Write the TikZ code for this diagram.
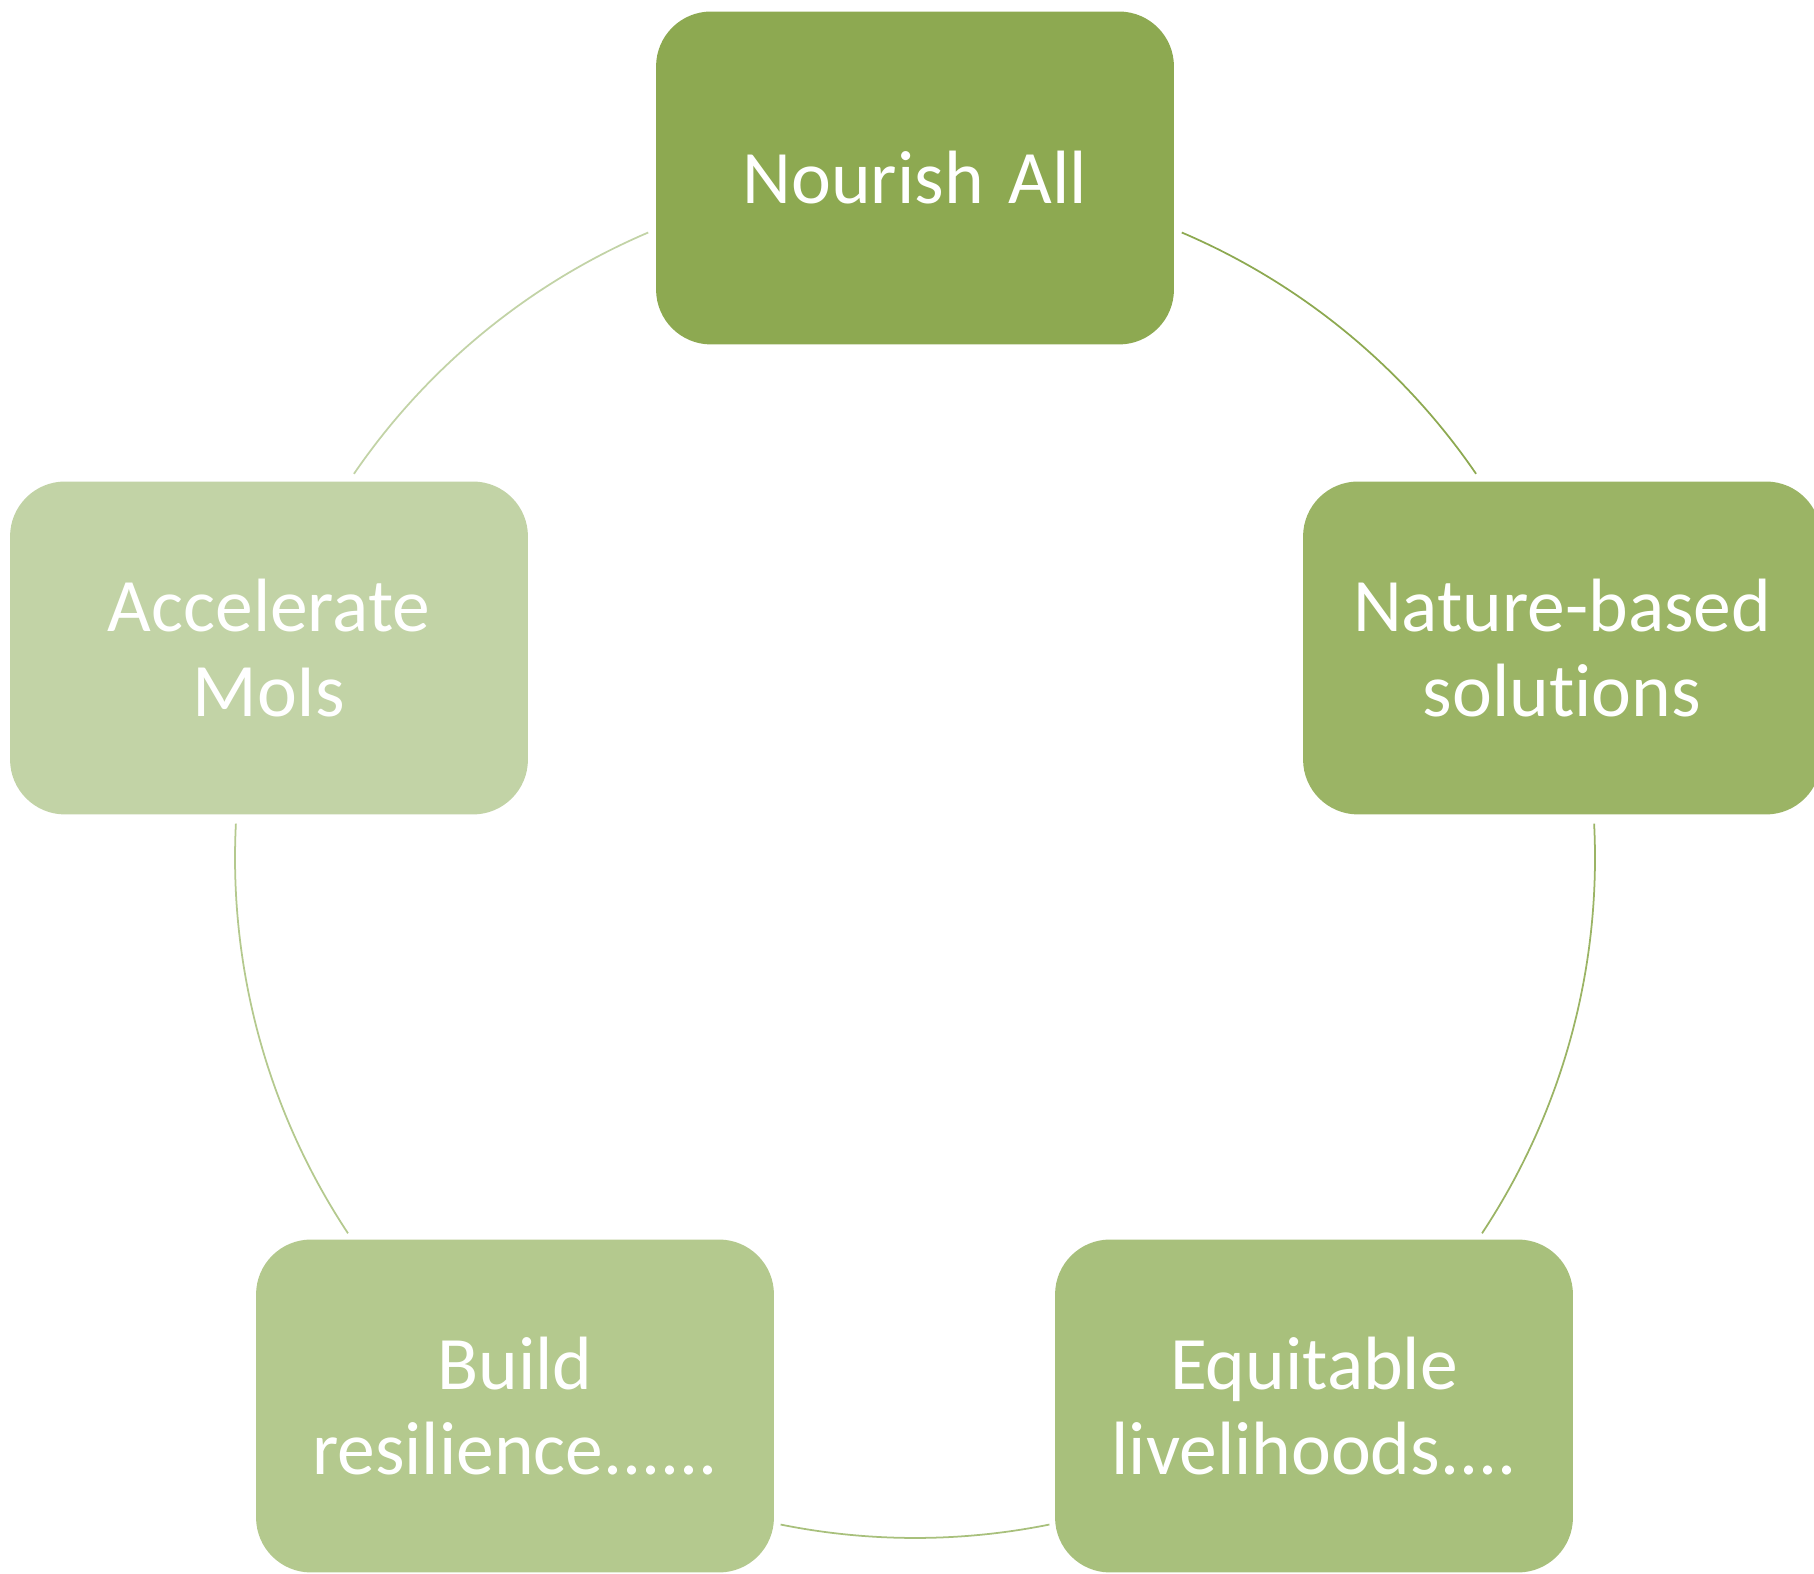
\documentclass[tikz,border=0pt]{standalone}
\usepackage{fontspec}
\setmainfont[Ligatures=NoCommon]{Carlito}
\usepackage{tikz}
\usetikzlibrary{positioning}
\definecolor{greenA}{HTML}{8DA951}
\definecolor{greenB}{HTML}{9BB465}
\definecolor{greenC}{HTML}{A8C07C}
\definecolor{greenD}{HTML}{B4C98E}
\definecolor{greenE}{HTML}{C2D3A6}

\begin{document}
\begin{tikzpicture}[x=0.02cm,y=0.02cm,
  goalbox/.style={rounded corners=1.1cm,minimum width=10.36cm,minimum height=6.66cm,
    text width=9.6cm,align=center,inner sep=0pt,text=white,
    font=\fontsize{43}{48}\selectfont},
  ring/.style={line width=1pt}]
\clip (0,0) rectangle (1814,1574);
\coordinate (hub) at (915,716);
\node[goalbox,fill=greenA] (nourish) at (915,1396) {Nourish All};
\node[goalbox,fill=greenB] (nature) at (1562,926) {Nature-based\\solutions};
\node[goalbox,fill=greenC] (equit) at (1314,168) {Equitable\\livelihoods....};
\node[goalbox,fill=greenD] (build) at (515,168) {Build\\resilience......};
\node[goalbox,fill=greenE] (accel) at (269,926) {Accelerate\\MoIs};
\draw[ring,draw=greenA] (hub) ++(66.9:680) arc[start angle=66.9,end angle=34.4,radius=680];
\draw[ring,draw=greenB] (hub) ++(2.9:680) arc[start angle=2.9,end angle=-33.5,radius=680];
\draw[ring,draw=greenC] (hub) ++(-78.6:680) arc[start angle=-78.6,end angle=-101.4,radius=680];
\draw[ring,draw=greenD] (hub) ++(-146.5:680) arc[start angle=-146.5,end angle=-182.9,radius=680];
\draw[ring,draw=greenE] (hub) ++(145.6:680) arc[start angle=145.6,end angle=113.1,radius=680];
\end{tikzpicture}
\end{document}
